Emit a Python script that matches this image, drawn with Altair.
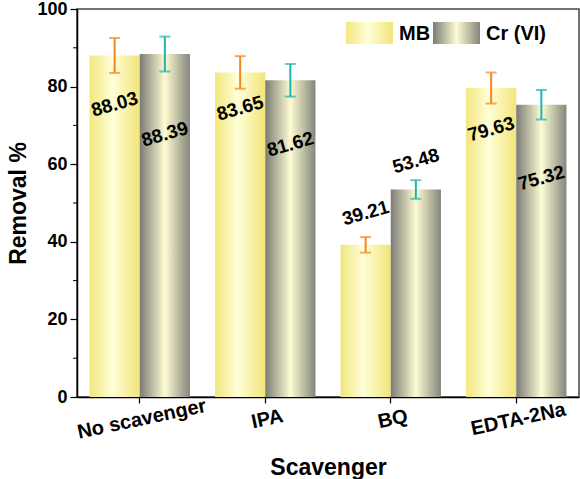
import altair as alt
import pandas as pd

categories = ["No scavenger", "IPA", "BQ", "EDTA-2Na"]
series = ["MB", "Cr (VI)"]
mb_values = [88.03, 83.65, 39.21, 79.63]
cr_values = [88.39, 81.62, 53.48, 75.32]
mb_err = [4.5, 4.2, 2.0, 4.0]
cr_err = [4.5, 4.2, 2.4, 3.8]
mb_label_y = [75.4, 74.4, 47.4, 69.0]
cr_label_y = [67.7, 65.1, 60.8, 56.4]
minor_ticks = [10, 30, 50, 70, 90]

rows = []
for i, c in enumerate(categories):
    rows.append(dict(cat=c, series="MB", value=mb_values[i], err=mb_err[i], ly=mb_label_y[i]))
    rows.append(dict(cat=c, series="Cr (VI)", value=cr_values[i], err=cr_err[i], ly=cr_label_y[i]))
df = pd.DataFrame(rows)
df["lo"] = df["value"] - df["err"]
df["hi"] = df["value"] + df["err"]
df["label"] = df["value"].map(lambda v: f"{v:.2f}")

FONT = "Liberation Sans"
mb_grad = alt.Gradient(gradient="linear", x1=0, x2=1, y1=0, y2=0,
                       stops=[alt.GradientStop(color="#f2e77c", offset=0),
                              alt.GradientStop(color="#fffed8", offset=0.45),
                              alt.GradientStop(color="#f2e57a", offset=1)])
cr_grad = alt.Gradient(gradient="linear", x1=0, x2=1, y1=0, y2=0,
                       stops=[alt.GradientStop(color="#7b7b76", offset=0),
                              alt.GradientStop(color="#fdfcd2", offset=0.5),
                              alt.GradientStop(color="#85857c", offset=1)])

xenc = alt.X("cat:N", sort=categories,
             scale=alt.Scale(paddingInner=0.2, paddingOuter=0.1),
             axis=alt.Axis(title="Scavenger", labelAngle=348, labelAlign="center",
                           labelBaseline="top", labelPadding=6, tickSize=6,
                           titlePadding=14))
xoff = alt.XOffset("series:N", sort=series, scale=alt.Scale(domain=series, paddingInner=0, paddingOuter=0))
yscale = alt.Scale(domain=[0, 100], nice=False)
yenc = alt.Y("value:Q", scale=yscale,
             axis=alt.Axis(title="Removal %", values=[0, 20, 40, 60, 80, 100], tickSize=7,
                           labelPadding=3, titlePadding=6, grid=False))

base = alt.Chart(df)
bars_mb = base.transform_filter(alt.datum.series == "MB").mark_bar(color=mb_grad).encode(
    x=xenc, xOffset=xoff, y=yenc)
bars_cr = base.transform_filter(alt.datum.series == "Cr (VI)").mark_bar(color=cr_grad).encode(
    x=xenc, xOffset=xoff, y=yenc)

ecolor = alt.Color("series:N", scale=alt.Scale(domain=series, range=["#f7861e", "#1fb3b0"]), legend=None)
err_rule = base.mark_rule(strokeWidth=2).encode(
    x=xenc, xOffset=xoff, y=alt.Y("lo:Q", scale=yscale), y2="hi:Q", color=ecolor)
cap_lo = base.mark_tick(size=11, thickness=2).encode(
    x=xenc, xOffset=xoff, y=alt.Y("lo:Q", scale=yscale), color=ecolor)
cap_hi = base.mark_tick(size=11, thickness=2).encode(
    x=xenc, xOffset=xoff, y=alt.Y("hi:Q", scale=yscale), color=ecolor)

labels = base.mark_text(angle=344, font=FONT, fontWeight="bold", fontSize=19,
                        color="black", align="center", baseline="middle").encode(
    x=xenc, xOffset=xoff, y=alt.Y("ly:Q", scale=yscale), text="label:N")

minor = alt.Chart(pd.DataFrame({"m": minor_ticks})).mark_rule(color="black", strokeWidth=1).encode(
    y=alt.Y("m:Q", scale=yscale), x=alt.value(-4), x2=alt.value(0))

leg = pd.DataFrame({"k": [0]})
leg_mb = alt.Chart(leg).mark_rect(color=mb_grad).encode(
    x=alt.value(269), x2=alt.value(316), y=alt.value(13), y2=alt.value(35))
leg_cr = alt.Chart(leg).mark_rect(color=cr_grad).encode(
    x=alt.value(356), x2=alt.value(403), y=alt.value(13), y2=alt.value(35))
leg_t1 = alt.Chart(leg).mark_text(font=FONT, fontWeight="bold", fontSize=20, align="left",
                                  baseline="middle", color="black").encode(
    x=alt.value(322), y=alt.value(25), text=alt.value("MB"))
leg_t2 = alt.Chart(leg).mark_text(font=FONT, fontWeight="bold", fontSize=20, align="left",
                                  baseline="middle", color="black").encode(
    x=alt.value(409), y=alt.value(25), text=alt.value("Cr (VI)"))

chart = alt.layer(bars_mb, bars_cr, err_rule, cap_lo, cap_hi, labels, minor,
                  leg_mb, leg_cr, leg_t1, leg_t2).properties(
    width=502, height=388,
    autosize=alt.AutoSizeParams(type="none"),
    padding={"left": 77, "top": 9, "right": 1, "bottom": 82},
).configure_view(stroke="#444444", strokeWidth=1.5).configure_axis(
    labelFont=FONT, titleFont=FONT, labelFontWeight="bold", titleFontWeight="bold",
    labelFontSize=18, titleFontSize=23, labelColor="black", titleColor="black",
    domainColor="black", tickColor="black", domainWidth=1.5, tickWidth=1.2,
).configure_axisX(labelFontSize=20)

chart.save("out.html", embed_options={"renderer": "svg", "actions": False})
